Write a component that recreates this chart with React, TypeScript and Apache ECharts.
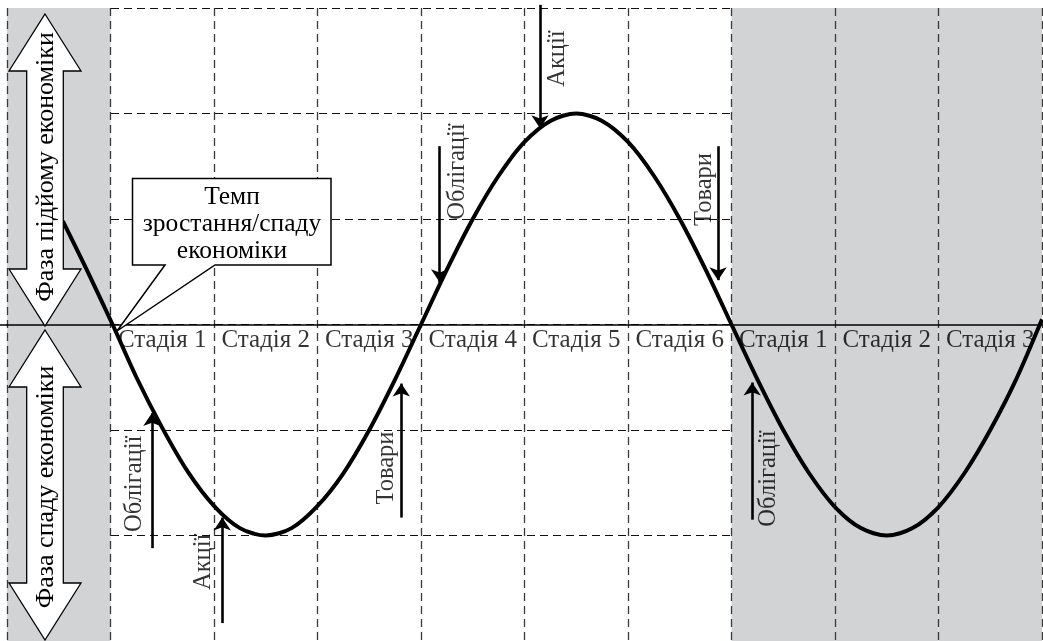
import React, { useEffect, useRef } from 'react';
import * as echarts from 'echarts';

// Business-cycle curve (x: stage units, y: growth units)
const curveX = [0.54, 0.77, 1.02, 1.25, 1.5, 1.75, 2, 2.25, 2.5, 2.75, 3, 3.25, 3.5, 3.75, 4, 4.25, 4.5, 4.75, 5, 5.25, 5.5, 5.75, 6, 6.25, 6.5, 6.75, 7, 7.25, 7.5, 7.75, 8, 8.25, 8.5, 8.75, 9, 9.25, 9.5, 9.75, 10];
const curveY = [0.98, 0.52, 0, -0.5, -0.98, -1.4, -1.72, -1.93, -2, -1.93, -1.72, -1.41, -1, -0.52, 0, 0.52, 1, 1.41, 1.73, 1.93, 2, 1.93, 1.73, 1.41, 1, 0.52, 0, -0.52, -1, -1.41, -1.73, -1.93, -2, -1.93, -1.73, -1.41, -1, -0.52, 0.05];

// Stage labels (centred in each column)
const stageNames = ['Стадія 1', 'Стадія 2', 'Стадія 3', 'Стадія 4', 'Стадія 5', 'Стадія 6', 'Стадія 1', 'Стадія 2', 'Стадія 3'];
const stageX = [1.5, 2.5, 3.5, 4.5, 5.5, 6.5, 7.5, 8.5, 9.5];

// Shaded column bands
const shadeBands = [[0, 1], [7, 10]];

// Asset arrows
const arrowX = [1.4, 2.08, 3.81, 4.18, 5.15, 6.87, 7.2];
const arrowFrom = [-2.12, -2.83, -1.83, 1.69, 3.03, 1.69, -1.85];
const arrowTo = [-0.84, -1.83, -0.56, 0.4, 1.86, 0.42, -0.55];

// Asset labels
const assetNames = ['Облігації', 'Акції', 'Товари', 'Облігації', 'Акції', 'Товари', 'Облігації'];
const labelX = [1.21, 1.88, 3.65, 4.33, 5.3, 6.72, 7.34];
const labelY = [-1.51, -2.25, -1.36, 1.45, 2.52, 1.28, -1.46];

const X_MIN = 0, X_MAX = 10, Y_MIN = -3, Y_MAX = 3;
const FONT = "'Liberation Serif', 'Times New Roman', serif";
const GRAY = '#d2d3d5';

export default function App() {
  const ref = useRef<HTMLDivElement>(null);
  useEffect(() => {
    if (!ref.current) return;
    const chart = echarts.init(ref.current, undefined, { renderer: 'svg' });

    const areaColors: string[] = [];
    for (let i = X_MIN; i < X_MAX; i++) {
      const mid = i + 0.5;
      const shaded = shadeBands.some(([a, b]) => mid > a && mid < b);
      areaColors.push(shaded ? GRAY : 'rgba(255,255,255,0)');
    }

    const bigArrow = (top: number, bottom: number) => {
      const cx = 45, hw = 36, sw = 18.3, hl = 57;
      return [
        [cx, top], [cx + hw, top + hl], [cx + sw, top + hl], [cx + sw, bottom - hl], [cx + hw, bottom - hl],
        [cx, bottom], [cx - hw, bottom - hl], [cx - sw, bottom - hl], [cx - sw, top + hl], [cx - hw, top + hl],
      ];
    };

    chart.setOption({
      animation: false,
      grid: { left: 7, top: 8, width: 1035, height: 634, containLabel: false },
      xAxis: {
        type: 'value', min: X_MIN, max: X_MAX, interval: 1,
        axisLine: { show: true, onZero: true, lineStyle: { color: '#000', width: 1.5 } },
        axisTick: { show: false }, axisLabel: { show: false },
        splitLine: { show: true, lineStyle: { color: '#3a3a3a', width: 1.3, type: [8, 5] } },
        splitArea: { show: true, areaStyle: { color: areaColors } },
      },
      yAxis: {
        type: 'value', min: Y_MIN, max: Y_MAX, interval: 1,
        axisLine: { show: false }, axisTick: { show: false }, axisLabel: { show: false },
        splitLine: { show: true, lineStyle: { color: '#111', width: 1.2, type: [8, 5] } },
      },
      series: [
        {
          type: 'line', data: curveX.map((x, i) => [x, curveY[i]]), smooth: 0.3,
          symbol: 'none', clip: false, z: 5,
          lineStyle: { color: '#000', width: 4 },
        },
        {
          type: 'lines', coordinateSystem: 'cartesian2d', clip: false, z: 6, silent: true,
          symbol: ['none', 'arrow'], symbolSize: 13,
          lineStyle: { color: '#000', width: 2.6, opacity: 1, curveness: 0 },
          itemStyle: { color: '#000' },
          data: arrowX.map((x, i) => ({ coords: [[x, arrowFrom[i]], [x, arrowTo[i]]] })),
        },
        {
          type: 'scatter', symbolSize: 1, z: 7, silent: true,
          itemStyle: { color: 'rgba(0,0,0,0)' },
          label: {
            show: true, position: 'bottom', distance: 1, formatter: (p: any) => p.name,
            fontFamily: FONT, fontSize: 25, color: '#000',
          },
          data: stageX.map((x, i) => ({ name: stageNames[i], value: [x, 0] })),
        },
        {
          type: 'scatter', symbolSize: 1, z: 7, silent: true,
          itemStyle: { color: 'rgba(0,0,0,0)' },
          label: {
            show: true, position: 'inside', rotate: 90, formatter: (p: any) => p.name,
            fontFamily: FONT, fontSize: 24.5, color: '#000',
          },
          data: labelX.map((x, i) => ({ name: assetNames[i], value: [x, labelY[i]] })),
        },
      ],
      graphic: [
        { type: 'line', z: 1, shape: { x1: 0, y1: 325, x2: 8, y2: 325 }, style: { stroke: '#000', lineWidth: 1.5 } },
        { type: 'polygon', z: 100, shape: { points: bigArrow(14, 326) }, style: { fill: '#fff', stroke: '#000', lineWidth: 1.3 } },
        { type: 'polygon', z: 100, shape: { points: bigArrow(330, 640) }, style: { fill: '#fff', stroke: '#000', lineWidth: 1.3 } },
        {
          type: 'text', z: 101, x: 44, y: 167, rotation: Math.PI / 2,
          style: { text: 'Фаза підйому економіки', font: `26px ${FONT}`, fill: '#000', textAlign: 'center', textVerticalAlign: 'middle' },
        },
        {
          type: 'text', z: 101, x: 44, y: 487, rotation: Math.PI / 2,
          style: { text: 'Фаза спаду економіки', font: `26px ${FONT}`, fill: '#000', textAlign: 'center', textVerticalAlign: 'middle' },
        },
        {
          type: 'polygon', z: 100,
          shape: { points: [[132.5, 178.5], [331, 178.5], [331, 265], [215, 265], [117, 331], [165, 265], [132.5, 265]] },
          style: { fill: '#fff', stroke: '#000', lineWidth: 1.5 },
        },
        {
          type: 'text', z: 101, x: 232, y: 222,
          style: {
            text: 'Темп\nзростання/спаду\nекономіки', font: `25.5px ${FONT}`, lineHeight: 27,
            fill: '#000', textAlign: 'center', textVerticalAlign: 'middle',
          },
        },
      ],
    });
    return () => chart.dispose();
  }, []);
  return <div ref={ref} style={{ position: 'fixed', left: 0, top: 0, width: 1043, height: 641 }} />;
}
